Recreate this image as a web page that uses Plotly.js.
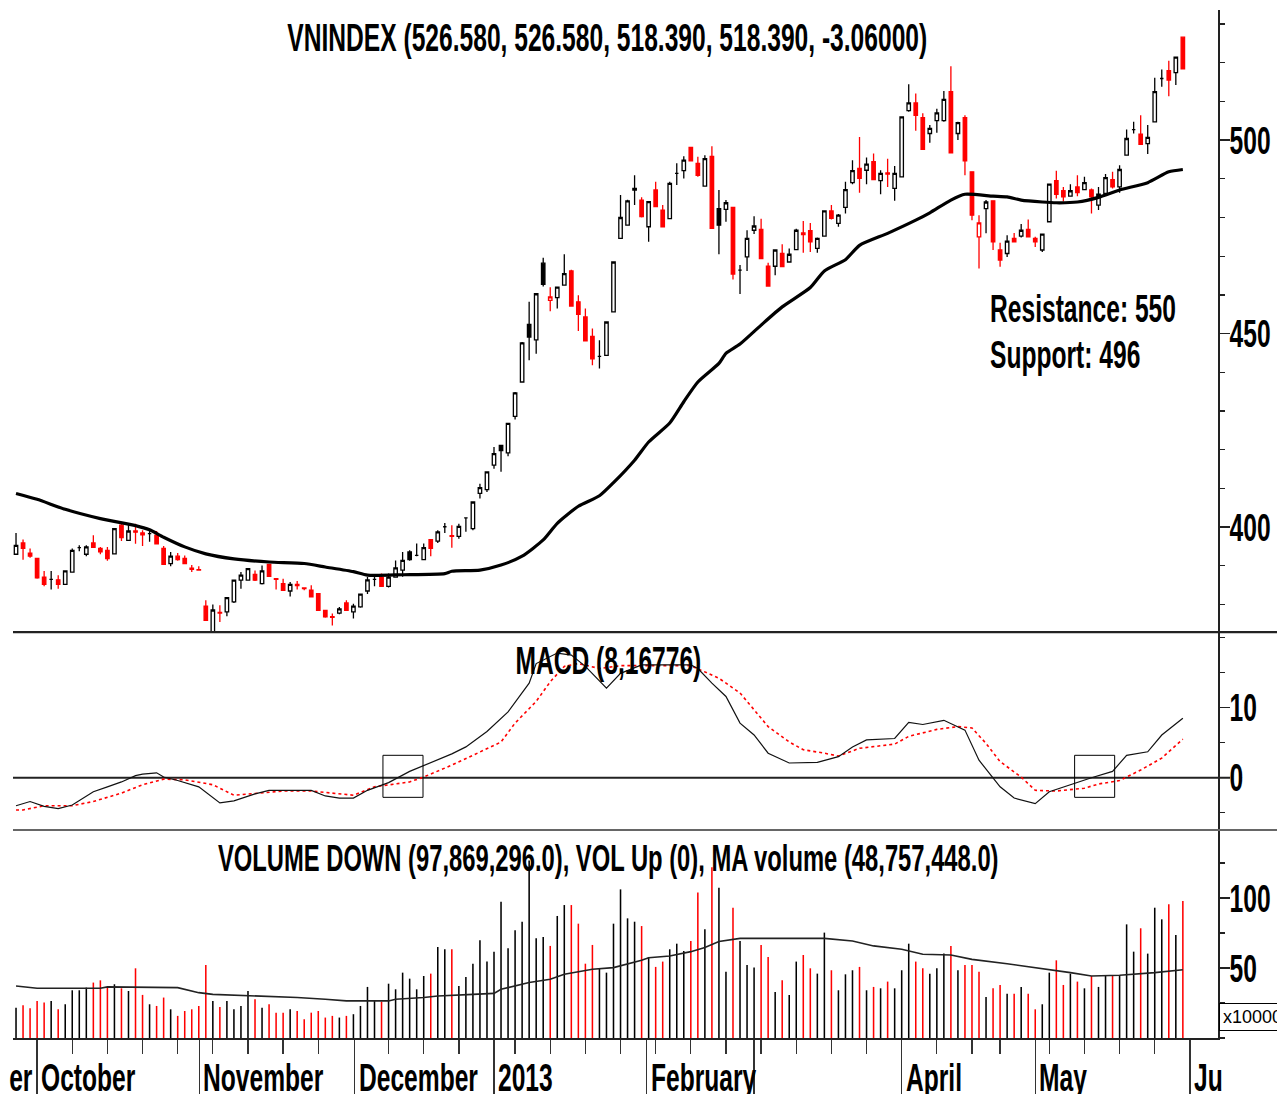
<!DOCTYPE html>
<html>
<head>
<meta charset="utf-8">
<script src="https://cdn.plot.ly/plotly-3.0.1.min.js"></script>
<style>
html,body{margin:0;padding:0;background:#fff;}
#chart{width:1277px;height:1094px;}
</style>
</head>
<body>
<div id="chart"></div>
<script>
// ---------- data ----------
const openP = [393.0,395.9,393.3,391.9,387.1,386.5,386.4,385.2,388.4,394.7,393.0,395.9,394.5,394.0,393.1,400.5,396.6,399.0,398.5,398.3,
397.9,394.5,390.6,392.5,391.9,389.4,389.0,379.6,372.8,378.0,378.1,380.7,386.3,386.3,387.8,385.4,390.4,386.7,385.4,383.5,
385.2,384.3,383.7,382.8,378.5,376.9,377.8,380.4,378.1,379.4,383.5,386.5,387.0,384.7,387.1,388.9,393.6,392.7,391.6,396.8,
396.4,400.1,397.8,397.6,402.4,399.6,408.7,409.7,416.0,421.1,419.2,428.6,437.5,452.4,448.4,468.2,458.6,459.3,462.5,466.2,
458.2,454.3,449.3,444.1,444.4,455.6,474.6,478.0,487.5,484.5,477.6,487.1,481.9,479.7,491.4,492.1,498.1,494.0,488.1,495.8,
482.3,482.1,482.6,466.4,469.8,476.7,476.9,467.4,467.4,470.7,468.5,471.7,476.0,476.6,472.0,475.2,481.7,478.5,482.6,489.0,
492.7,492.2,494.4,489.5,491.5,487.5,490.5,507.6,509.6,505.8,501.7,505.0,505.0,512.5,501.7,505.8,491.8,475.0,482.3,484.3,
471.6,470.7,474.6,475.2,476.9,474.6,471.6,478.9,489.5,486.9,485.5,487.9,487.2,487.1,483.2,486.2,489.8,487.9,496.1,502.7,
501.5,499.1,504.7,515.9,517.9,517.4,526.58];
const highP = [398.5,396.8,394.5,391.9,388.7,388.7,387.6,388.7,394.5,395.3,395.3,397.9,394.9,394.9,399.6,400.9,400.9,400.9,399.2,399.6,
399.0,395.1,393.6,393.3,392.7,390.2,389.9,381.1,380.0,379.8,381.8,386.3,388.4,389.3,388.8,390.1,390.4,386.7,386.7,385.8,
386.1,384.5,385.0,382.8,378.5,377.7,379.4,381.1,380.2,382.8,387.1,387.1,388.0,388.0,391.4,393.6,394.0,395.8,395.8,396.8,
399.2,401.1,400.5,400.9,402.4,406.5,411.2,414.3,420.7,421.1,426.8,434.9,447.8,458.2,460.3,469.6,462.0,462.0,470.5,466.5,
459.9,456.5,451.3,448.3,453.0,468.5,485.8,484.6,490.9,485.2,484.1,489.2,483.2,489.2,494.0,495.8,498.1,495.7,496.1,498.4,
487.1,484.5,482.8,467.7,476.7,480.3,479.7,468.3,471.6,473.1,472.0,477.1,479.1,478.6,474.8,481.7,483.2,480.9,489.2,494.8,
500.8,495.5,496.5,492.2,495.2,493.3,506.0,514.4,512.0,506.9,503.9,508.1,512.7,519.1,504.7,506.4,491.8,480.6,484.5,484.3,
473.5,475.4,476.0,478.3,479.5,475.0,475.7,488.6,492.1,487.9,488.6,490.9,490.5,487.5,487.9,491.2,491.8,493.5,502.7,504.7,
506.4,503.9,516.1,518.2,520.5,521.45,526.58];
const lowP = [393.0,391.6,392.1,386.7,384.7,383.9,384.1,385.2,388.2,393.8,392.5,394.7,393.0,391.3,393.1,396.4,396.4,395.7,395.1,396.2,
395.6,390.4,389.9,391.3,390.4,388.4,388.9,375.8,372.8,375.5,377.0,380.4,384.1,386.3,386.1,385.2,387.3,383.9,383.5,382.1,
383.9,383.7,381.8,378.5,376.6,374.6,377.5,378.4,376.4,379.2,382.7,384.7,384.7,384.4,387.1,387.2,391.3,392.5,391.6,392.5,
395.9,398.5,394.7,397.0,398.8,399.2,407.4,409.1,415.1,414.3,418.3,427.8,437.5,443.1,444.8,462.2,455.8,456.5,462.5,457.1,
450.7,448.1,441.8,441.0,444.4,455.6,474.6,478.0,483.2,480.0,473.7,482.8,477.6,479.7,488.4,490.1,494.6,490.5,488.1,477.2,
470.5,478.9,464.0,460.2,466.2,475.7,469.4,462.3,465.1,467.3,468.5,471.6,470.9,471.1,470.9,475.2,479.5,477.6,481.0,488.6,
486.4,488.6,489.8,486.0,487.9,484.3,490.5,507.3,502.4,497.6,499.3,501.9,504.7,496.7,500.0,490.9,479.3,466.8,475.9,471.6,
467.3,469.8,473.7,474.8,475.0,472.4,471.1,478.9,484.9,484.1,485.5,485.5,487.2,481.0,481.9,486.2,487.5,486.4,496.1,501.7,
498.9,496.4,504.7,513.8,511.3,514.2,518.39];
const closeP = [395.3,394.5,392.5,386.9,385.2,386.5,385.2,388.7,394.0,394.7,394.9,394.8,393.6,391.9,399.6,397.3,399.0,398.7,398.0,398.3,
395.7,390.4,392.5,391.6,390.6,389.1,388.9,375.9,378.6,377.8,381.8,386.3,387.6,389.3,386.3,388.7,387.3,386.5,383.7,385.2,
384.9,384.1,382.0,378.5,376.8,376.7,378.9,378.5,379.6,382.7,386.4,386.5,384.7,387.1,389.5,391.4,391.6,392.7,394.7,394.5,
398.8,400.1,397.6,400.2,402.4,406.5,410.2,414.3,419.0,419.8,426.8,434.7,447.6,449.1,460.3,462.7,459.5,462.0,465.5,457.1,
455.0,448.1,443.5,444.1,453.0,468.5,480.0,484.3,487.1,480.2,484.1,482.8,477.6,488.8,491.4,494.8,494.6,490.9,495.2,477.2,
478.0,483.8,465.4,466.4,474.6,477.8,469.4,462.3,471.6,467.3,470.5,476.7,475.6,473.7,474.6,481.7,479.8,480.6,487.2,492.1,
490.1,493.8,489.8,491.4,491.2,491.4,506.0,509.6,506.4,497.6,503.0,507.0,510.5,496.7,504.5,494.6,480.6,478.6,484.0,473.7,
469.0,473.9,473.7,476.7,475.0,473.7,475.7,488.6,486.0,485.3,486.9,486.4,489.0,485.3,486.0,490.3,487.9,492.4,500.4,502.7,
498.9,500.7,512.5,515.9,515.5,521.45,518.39];
// volume, millions of shares
const volume = [21.7,23.4,21.2,26.5,25.3,26.5,20.5,24.1,34.1,34.1,36.0,39.6,41.2,36.0,38.4,35.5,33.6,49.8,30.8,24.1,
22.9,28.9,20.5,15.8,19.3,20.5,22.9,52.2,26.5,22.2,26.5,20.5,22.9,33.6,27.7,21.7,24.1,18.1,18.1,20.5,
19.3,13.4,18.1,19.3,14.6,15.8,14.6,15.8,17.0,22.9,36.5,26.5,26.0,38.8,34.8,46.7,42.4,34.8,44.3,46.0,
65.0,63.4,63.4,37.2,43.6,53.1,69.8,54.6,61.7,97.4,64.1,77.0,83.1,126.9,71.2,72.2,65.8,87.2,95.0,95.0,
81.7,53.1,66.5,49.8,46.7,81.7,106.2,85.5,83.1,80.0,57.9,50.8,54.6,63.4,67.4,62.2,69.3,103.9,77.7,122.0,
107.4,47.4,93.1,69.3,52.2,50.3,66.5,57.9,32.9,41.2,30.8,54.6,59.3,49.8,46.0,75.3,48.4,34.1,45.5,48.4,
50.8,34.1,36.5,35.5,40.3,35.5,48.4,67.4,54.6,49.8,46.0,49.8,60.3,65.8,48.4,52.2,52.2,47.4,29.3,35.5,
37.9,31.7,31.7,36.5,31.7,20.5,24.1,46.7,55.5,37.9,46.0,40.3,35.5,44.3,36.5,44.3,44.3,45.0,81.2,61.7,
78.4,60.3,93.1,84.8,95.5,73.6,97.9];

// moving average of the index (sampled at bar numbers)
const maIdx = [0,3,7,12,17,19,21,24,27,31,36,41,44,48,50,55,61,62,66,69,72,75,77,80,83,85,88,90,93,95,97,100,101,103,106,109,113,115,118,120,124,128,130,133,135,139,141,143,146,148,151,154,157,161,164,166];
const maVal = [408.7,407.2,404.6,402.2,400.4,399.3,397.4,394.9,393.1,391.8,391.0,390.6,389.7,388.5,387.6,387.7,388.0,388.6,388.9,390.2,392.5,396.7,401.0,405.4,408.1,411.5,417.3,422.0,426.9,432.4,437.5,442.3,444.9,447.3,452.2,456.9,461.9,466.2,469.1,472.8,475.9,479.3,481.2,484.5,486.0,485.5,485.3,484.5,484.0,483.8,484.0,485.2,487.1,489.0,491.8,492.4];

// MACD line and its signal (dotted)
const macdIdx = [0,2,4,6,8,11,13,15,17,18,20,21,23,26,29,31,34,36,42,44,46,48,50,53,56,59,62,64,67,70,73,74,77,79,81,84,86,89,93,96,97,99,101,103,105,107,110,114,117,119,121,125,127,129,132,135,137,140,142,145,147,151,153,156,158,161,163,166];
const macdVal = [-4.0,-3.4,-4.1,-4.4,-3.9,-2.0,-1.3,-0.6,0.3,0.5,0.7,0.1,-0.4,-1.3,-3.6,-3.3,-2.3,-1.8,-1.8,-2.6,-2.9,-2.9,-1.8,-0.7,0.9,2.1,3.4,4.4,6.6,9.4,13.5,16.3,17.8,17.5,15.9,12.8,14.9,16.1,16.1,16.1,15.6,13.5,11.6,7.8,6.1,3.5,2.1,2.2,3.0,4.4,5.4,5.6,7.9,7.6,8.2,6.8,2.5,-1.3,-2.9,-3.7,-2.0,-0.6,0,0.9,3.2,3.7,6.1,8.5];
const sigIdx = [0,1,4,8,11,15,18,21,24,28,31,34,38,42,44,48,51,56,58,62,65,69,71,74,76,78,80,83,86,89,96,100,103,105,107,110,112,115,117,120,125,127,131,134,136,138,140,143,145,148,152,154,157,160,163,166];
const sigVal = [-4.6,-4.6,-4.0,-4.0,-3.4,-2.2,-1.0,-0.2,-0.3,-1.0,-2.5,-2.2,-1.9,-1.9,-2.1,-2.5,-1.3,-0.6,0.1,1.8,3.2,5.1,7.8,10.9,13.7,15.9,16.3,15.6,16.0,16.0,16.0,14.2,12.1,9.7,7.3,5.1,4.0,3.5,3.1,4.2,4.8,5.9,6.9,7.3,7.1,4.9,2.3,0.1,-1.8,-1.9,-1.5,-0.9,-0.4,1.1,2.8,5.5];

// moving average of volume
const volMaIdx = [0,3,12,13,23,26,28,35,40,44,47,53,54,58,60,65,68,69,73,76,78,82,85,89,90,93,96,98,100,103,112,115,119,122,126,129,133,136,141,147,150,153,157,162,166];
const volMaVal = [37.2,35.5,35.5,36.5,36.0,32.4,31.2,30.0,28.9,27.7,26.5,26.5,27.7,28.9,30.0,31.2,31.9,34.8,39.6,42.0,45.5,49.1,50.3,55.5,57.4,58.6,61.7,64.6,68.9,71.2,71.2,71.2,69.3,65.8,63.4,59.8,59.3,56.2,53.1,49.1,46.7,44.3,44.8,46.7,48.8];

// time axis: month starts (bar numbers) and labels, weekly ticks
const monthPos = [3,26.1,48.2,68,89.7,105,126,145,167];
const monthLabels = ['October','November','December','2013','February','','April','May','Ju'];
const weekPos = [8,13,18,23,28,33,38,43,53,58,63,71,76,81,86,91,96,101,106,111,116,121,131,136,140,147,152,157,162];
const priceTicks = [400,450,500];
const macdTicks = [0,10];
const volTicks = [50,100];
// MACD cross-over highlight boxes [barFrom, barTo, macdLow, macdHigh]
const crossBoxes = [[52.2,57.9,-2.8,3.2],[150.6,156.3,-2.8,3.2]];

const titleText = 'VNINDEX (526.580, 526.580, 518.390, 518.390, -3.06000)';
const macdText = 'MACD (8,16776)';
const volText = 'VOLUME DOWN (97,869,296.0), VOL Up (0), MA volume (48,757,448.0)';
const notes = ['Resistance: 550','Support: 496'];

// ---------- build ----------
const FONT = "'Liberation Sans',Arial,sans-serif";
const TXT = {family: FONT, size: 30, color: '#000', weight: 'bold'};
const SX = 0.82, SY = 1.3;   // condensed / tall lettering of the original
const RED = '#ff0000';
const idx = closeP.map((_, i) => i);
const isDown = idx.map(i => i > 0 && closeP[i] < closeP[i - 1]);
const groups = {upBlack: [], upRed: [], downRed: [], downBlack: []};
idx.forEach(i => {
  const filled = closeP[i] < openP[i];
  if (filled) (isDown[i] ? groups.downRed : groups.downBlack).push(i);
  else (isDown[i] ? groups.upRed : groups.upBlack).push(i);
});
function candle(sel, lineColor, fill) {
  const st = {line: {color: lineColor, width: 1.3}, fillcolor: fill};
  return {
    type: 'candlestick', xaxis: 'x', yaxis: 'y',
    x: sel, open: sel.map(i => openP[i]), high: sel.map(i => highP[i]),
    low: sel.map(i => lowP[i]), close: sel.map(i => closeP[i]),
    increasing: st, decreasing: st, whiskerwidth: 0,
    hoverinfo: 'skip', showlegend: false
  };
}
const traces = [
  candle(groups.upBlack, '#000000', '#ffffff'),
  candle(groups.upRed, RED, '#ffffff'),
  candle(groups.downRed, RED, RED),
  candle(groups.downBlack, '#000000', '#000000'),
  {type: 'scatter', mode: 'lines', x: maIdx, y: maVal, xaxis: 'x', yaxis: 'y',
   line: {color: '#000', width: 3.2, shape: 'spline', smoothing: 0.6}, hoverinfo: 'skip'},
  {type: 'scatter', mode: 'lines', x: sigIdx, y: sigVal, xaxis: 'x', yaxis: 'y2',
   line: {color: RED, width: 1.6, dash: 'dot'}, hoverinfo: 'skip'},
  {type: 'scatter', mode: 'lines', x: macdIdx, y: macdVal, xaxis: 'x', yaxis: 'y2',
   line: {color: '#111', width: 1.2}, hoverinfo: 'skip'},
  {type: 'bar', x: idx, y: volume, xaxis: 'x', yaxis: 'y3', width: 0.22,
   marker: {color: idx.map(i => isDown[i] ? RED : '#000'), line: {width: 0}}, hoverinfo: 'skip'},
  {type: 'scatter', mode: 'lines', x: volMaIdx, y: volMaVal, xaxis: 'x', yaxis: 'y3',
   line: {color: '#222', width: 1.6}, hoverinfo: 'skip'}
];

const yCommon = {
  side: 'right', anchor: 'x', showgrid: false, zeroline: false, showline: true,
  linecolor: '#222', linewidth: 1.6, ticks: 'outside', tickmode: 'array',
  ticklen: 10, tickwidth: 1.3, tickcolor: '#222', fixedrange: true, ticklabelstandoff: -6,
  tickfont: TXT
};
const PRICE_DOM = [0.3949, 1], MACD_DOM = [0.2023, 0.3949], VOL_DOM = [0, 0.2023];

const shapes = [
  {type: 'line', xref: 'paper', yref: 'paper', x0: 0, x1: 1.05, y0: PRICE_DOM[0], y1: PRICE_DOM[0],
   line: {color: '#222', width: 2.2}, layer: 'above'},
  {type: 'line', xref: 'paper', yref: 'paper', x0: 0, x1: 1.05, y0: MACD_DOM[0], y1: MACD_DOM[0],
   line: {color: '#666', width: 2}, layer: 'above'},
  {type: 'line', xref: 'paper', yref: 'y2', x0: 0, x1: 1.01, y0: 0, y1: 0,
   line: {color: '#222', width: 2}, layer: 'below'}
];
crossBoxes.forEach(b => shapes.push({type: 'rect', xref: 'x', yref: 'y2', x0: b[0], x1: b[1], y0: b[2], y1: b[3],
  line: {color: '#000', width: 1}, fillcolor: 'rgba(0,0,0,0)', layer: 'above'}));

const annotations = [
  {text: titleText, xref: 'paper', yref: 'paper', x: 0.493, y: 0.9728, xanchor: 'center', yanchor: 'middle', showarrow: false, font: TXT},
  {text: notes[0], xref: 'paper', yref: 'paper', x: 0.809, y: 0.7101, xanchor: 'left', yanchor: 'middle', showarrow: false, font: TXT},
  {text: notes[1], xref: 'paper', yref: 'paper', x: 0.809, y: 0.6644, xanchor: 'left', yanchor: 'middle', showarrow: false, font: TXT},
  {text: macdText, xref: 'paper', yref: 'paper', x: 0.4938, y: 0.3677, xanchor: 'center', yanchor: 'middle', showarrow: false, font: TXT},
  {text: volText, xref: 'paper', yref: 'paper', x: 0.4938, y: 0.1751, xanchor: 'center', yanchor: 'middle', showarrow: false,
   font: Object.assign({}, TXT, {size: 29})},
  {text: 'x10000', xref: 'paper', yref: 'paper', x: 1.0008, y: 0.0204, xanchor: 'left', yanchor: 'middle', showarrow: false,
   font: {family: FONT, size: 18, color: '#000'}, bordercolor: '#000', borderwidth: 1, borderpad: 3, bgcolor: '#fff', name: 'plain'},
  {text: 'er', xref: 'x', yref: 'paper', x: monthPos[0], xshift: -2, y: -0.038, xanchor: 'right', yanchor: 'middle', showarrow: false, font: TXT}
];
monthPos.forEach((p, k) => {
  if (!monthLabels[k]) return;
  annotations.push({text: monthLabels[k], xref: 'x', yref: 'paper', x: p, xshift: 2, y: -0.038,
    xanchor: 'left', yanchor: 'middle', showarrow: false, font: TXT});
});

const layout = {
  width: 1277, height: 1094, paper_bgcolor: '#fff', plot_bgcolor: '#fff',
  margin: {l: 13, r: 59, t: 10, b: 56}, showlegend: false, dragmode: false,
  font: {family: FONT, size: 30, color: '#000'},
  xaxis: {
    domain: [0, 1], range: [-0.43, 171.0], anchor: 'y3', showgrid: false, zeroline: false,
    showline: true, linecolor: '#222', linewidth: 2, ticks: 'outside', tickmode: 'array',
    tickvals: monthPos, ticktext: monthPos.map(() => ''), ticklen: 60, tickwidth: 1.3, tickcolor: '#333',
    showticklabels: false, rangeslider: {visible: false}, fixedrange: true,
    minor: {tickmode: 'array', tickvals: weekPos, ticks: 'outside', ticklen: 14, tickwidth: 1.3, tickcolor: '#333'}
  },
  yaxis: Object.assign({}, yCommon, {domain: PRICE_DOM, range: [372.9, 533.6], tickvals: priceTicks,
    minor: {tickmode: 'linear', tick0: 0, dtick: 10, ticks: 'outside', ticklen: 5, tickcolor: '#222'}}),
  yaxis2: Object.assign({}, yCommon, {domain: MACD_DOM, range: [-7.47, 20.8], tickvals: macdTicks,
    minor: {tickmode: 'linear', tick0: 0, dtick: 5, ticks: 'outside', ticklen: 5, tickcolor: '#222'}}),
  yaxis3: Object.assign({}, yCommon, {domain: VOL_DOM, range: [0, 148.6], tickvals: volTicks,
    minor: {tickmode: 'linear', tick0: 0, dtick: 25, ticks: 'outside', ticklen: 5, tickcolor: '#222'}}),
  shapes: shapes, annotations: annotations
};

// squeeze a text element horizontally and stretch it vertically about an anchor point
function squeeze(t, anchor) {
  const b = t.getBBox();
  const ox = anchor === 'left' ? b.x : anchor === 'right' ? b.x + b.width : b.x + b.width / 2;
  const oy = b.y + b.height / 2;
  const prev = t.getAttribute('transform') || '';
  t.setAttribute('transform', prev + ' translate(' + ox + ',' + oy + ') scale(' + SX + ',' + SY + ') translate(' + (-ox) + ',' + (-oy) + ')');
}

const gd = document.getElementById('chart');
Plotly.newPlot(gd, traces, layout, {staticPlot: true, displayModeBar: false}).then(() => {
  gd.querySelectorAll('g.annotation').forEach(g => {
    const a = annotations[+g.getAttribute('data-index')];
    if (!a || a.name === 'plain') return;
    const t = g.querySelector('text.annotation-text');
    if (t) squeeze(t, a.xanchor);
  });
  gd.querySelectorAll('.yaxislayer-above text, .yaxislayer-below text').forEach(t => squeeze(t, 'left'));
});
</script>
</body>
</html>
